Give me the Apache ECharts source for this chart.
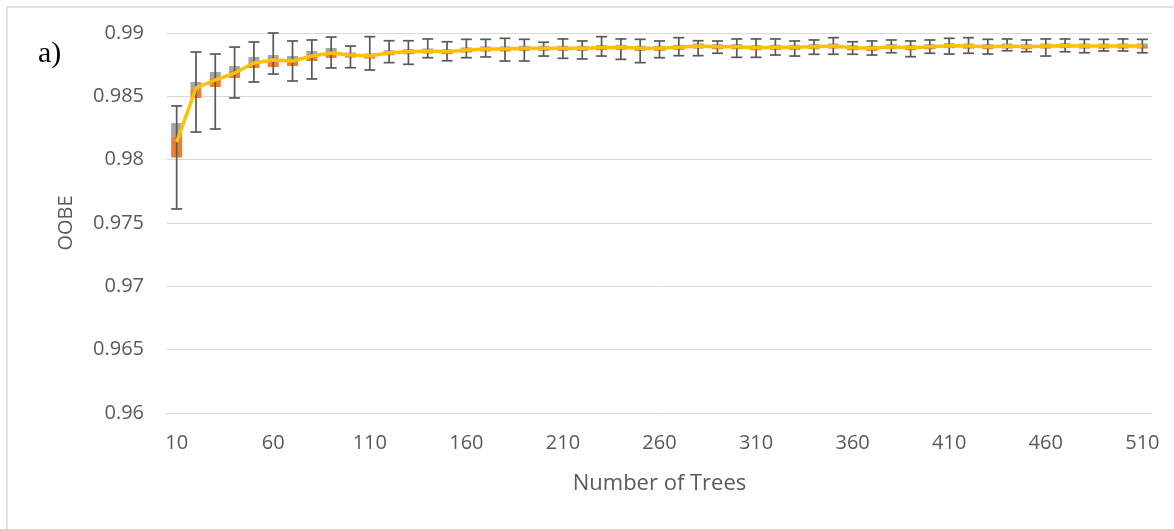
<!DOCTYPE html>
<html>
<head>
<meta charset="utf-8">
<script src="https://cdn.jsdelivr.net/npm/echarts@6/dist/echarts.min.js"></script>
<style>
html,body{margin:0;padding:0;background:#fff;}
#chart{width:1174px;height:529px;}
</style>
</head>
<body>
<div id="chart"></div>
<script>
const categories = ['10','20','30','40','50','60','70','80','90','100','110','120','130','140','150','160','170','180','190','200','210','220','230','240','250','260','270','280','290','300','310','320','330','340','350','360','370','380','390','400','410','420','430','440','450','460','470','480','490','500','510'];

const maxVals = [0.98424,0.98850,0.98834,0.98889,0.98929,0.99000,0.98937,0.98945,0.98968,
  0.98897,0.98971,0.98939,0.98939,0.98953,0.98931,0.98950,0.98950,0.98958,0.98950,
  0.98927,0.98953,0.98937,0.98971,0.98953,0.98950,0.98937,0.98963,0.98939,0.98937,
  0.98953,0.98953,0.98953,0.98937,0.98945,0.98963,0.98931,0.98937,0.98945,0.98937,
  0.98945,0.98958,0.98963,0.98950,0.98953,0.98945,0.98953,0.98953,0.98950,0.98950,
  0.98953,0.98950];

const minVals = [0.97611,0.98218,0.98242,0.98487,0.98613,0.98676,0.98621,0.98637,0.98724,
  0.98726,0.98708,0.98766,0.98753,0.98805,0.98781,0.98805,0.98811,0.98779,0.98779,
  0.98818,0.98800,0.98795,0.98818,0.98792,0.98766,0.98805,0.98821,0.98821,0.98840,
  0.98808,0.98808,0.98826,0.98818,0.98832,0.98832,0.98832,0.98826,0.98844,0.98813,
  0.98840,0.98834,0.98840,0.98834,0.98860,0.98852,0.98818,0.98852,0.98844,0.98858,
  0.98858,0.98844];

const q3Vals = [0.98289,0.98613,0.98692,0.98739,0.98811,0.98826,0.98818,0.98858,0.98882,
  0.98846,0.98838,0.98864,0.98872,0.98878,0.98872,0.98886,0.98894,0.98894,0.98899,
  0.98899,0.98899,0.98899,0.98904,0.98907,0.98899,0.98899,0.98907,0.98917,0.98912,
  0.98912,0.98904,0.98907,0.98907,0.98912,0.98917,0.98904,0.98899,0.98912,0.98904,
  0.98912,0.98920,0.98917,0.98912,0.98917,0.98912,0.98917,0.98920,0.98917,0.98917,
  0.98917,0.98917];

const medVals = [0.98179,0.98550,0.98645,0.98700,0.98763,0.98779,0.98779,0.98818,0.98842,
  0.98826,0.98818,0.98844,0.98852,0.98858,0.98852,0.98866,0.98874,0.98874,0.98879,
  0.98879,0.98879,0.98879,0.98884,0.98887,0.98879,0.98879,0.98887,0.98897,0.98892,
  0.98892,0.98884,0.98887,0.98887,0.98892,0.98897,0.98884,0.98879,0.98892,0.98884,
  0.98892,0.98900,0.98897,0.98892,0.98897,0.98892,0.98897,0.98900,0.98897,0.98897,
  0.98897,0.98897];

const q1Vals = [0.98017,0.98487,0.98574,0.98645,0.98724,0.98732,0.98739,0.98779,0.98803,
  0.98806,0.98798,0.98824,0.98832,0.98838,0.98832,0.98846,0.98854,0.98854,0.98859,
  0.98859,0.98859,0.98859,0.98864,0.98867,0.98859,0.98859,0.98867,0.98877,0.98872,
  0.98872,0.98864,0.98867,0.98867,0.98872,0.98877,0.98864,0.98859,0.98872,0.98864,
  0.98872,0.98880,0.98877,0.98872,0.98877,0.98872,0.98877,0.98880,0.98877,0.98877,
  0.98877,0.98877];

const lineVals = [0.98139,0.98566,0.98629,0.98684,0.98763,0.98787,0.98779,0.98818,0.98842,
  0.98826,0.98818,0.98844,0.98852,0.98858,0.98852,0.98866,0.98874,0.98874,0.98879,
  0.98879,0.98879,0.98879,0.98884,0.98887,0.98879,0.98879,0.98887,0.98897,0.98892,
  0.98892,0.98884,0.98887,0.98887,0.98892,0.98897,0.98884,0.98879,0.98892,0.98884,
  0.98892,0.98900,0.98897,0.98892,0.98897,0.98892,0.98897,0.98900,0.98897,0.98897,
  0.98897,0.98897];

const yTickLabels = ['0.96','0.965','0.97','0.975','0.98','0.985','0.99'];

const FONT = 'Open Sans';
const TXT = '#595959';

const baseData = q1Vals.slice();
const orangeData = medVals.map((m, i) => +(m - q1Vals[i]).toFixed(6));
const grayData = q3Vals.map((q, i) => +(q - medVals[i]).toFixed(6));
const whiskerData = categories.map((c, i) => [i, minVals[i], maxVals[i]]);

const chart = echarts.init(document.getElementById('chart'), null, {renderer: 'canvas'});
chart.setOption({
  animation: false,
  backgroundColor: '#ffffff',
  grid: {left: 167, right: 22, top: 33, bottom: 116},
  xAxis: {
    type: 'category',
    data: categories,
    boundaryGap: true,
    name: 'Number of Trees',
    nameLocation: 'middle',
    nameGap: 60,
    nameTextStyle: {fontFamily: FONT, fontSize: 22, color: TXT},
    axisLine: {show: true, lineStyle: {color: '#d9d9d9', width: 1}},
    axisTick: {show: false},
    axisLabel: {interval: 4, margin: 20, fontFamily: FONT, fontSize: 20, color: TXT},
    splitLine: {show: false}
  },
  yAxis: {
    type: 'value',
    min: 0.96,
    max: 0.99,
    interval: 0.005,
    name: 'OOBE',
    nameLocation: 'middle',
    nameGap: 91,
    nameTextStyle: {fontFamily: FONT, fontSize: 20, color: TXT},
    axisLine: {show: false},
    axisTick: {show: false},
    axisLabel: {
      margin: 23, fontFamily: FONT, fontSize: 20, color: TXT,
      formatter: function (v) {
        const idx = Math.round((v - 0.96) / 0.005);
        return yTickLabels[idx] !== undefined ? yTickLabels[idx] : '';
      }
    },
    splitLine: {show: true, lineStyle: {color: '#d9d9d9', width: 1}}
  },
  graphic: [
    {type: 'line', shape: {x1: 7, y1: 7, x2: 1174, y2: 7}, style: {stroke: '#d9d9d9', lineWidth: 1.5}, silent: true},
    {type: 'line', shape: {x1: 7, y1: 7, x2: 7, y2: 529}, style: {stroke: '#d9d9d9', lineWidth: 1.5}, silent: true},
    {type: 'text', left: 38, top: 39, style: {text: 'a)', fontFamily: 'Liberation Serif', fontSize: 30, fill: '#000000'}, silent: true}
  ],
  series: [
    {type: 'bar', stack: 'box', data: baseData, barWidth: 11, itemStyle: {color: 'rgba(0,0,0,0)'}, silent: true},
    {type: 'bar', stack: 'box', data: orangeData, barWidth: 11, itemStyle: {color: '#ED7D31'}},
    {type: 'bar', stack: 'box', data: grayData, barWidth: 11, itemStyle: {color: '#A5A5A5'}},
    {
      type: 'custom',
      data: whiskerData,
      renderItem: function (params, api) {
        const x = api.value(0);
        const lo = api.coord([x, api.value(1)]);
        const hi = api.coord([x, api.value(2)]);
        const hw = 5.5;
        const st = {stroke: '#595959', lineWidth: 1.7};
        return {
          type: 'group',
          children: [
            {type: 'line', shape: {x1: lo[0], y1: lo[1], x2: hi[0], y2: hi[1]}, style: st},
            {type: 'line', shape: {x1: lo[0] - hw, y1: lo[1], x2: lo[0] + hw, y2: lo[1]}, style: st},
            {type: 'line', shape: {x1: hi[0] - hw, y1: hi[1], x2: hi[0] + hw, y2: hi[1]}, style: st}
          ]
        };
      },
      z: 3
    },
    {
      type: 'line',
      data: lineVals,
      symbol: 'none',
      lineStyle: {color: '#FFC000', width: 3.5},
      itemStyle: {color: '#FFC000'},
      z: 4
    }
  ]
});
</script>
</body>
</html>
